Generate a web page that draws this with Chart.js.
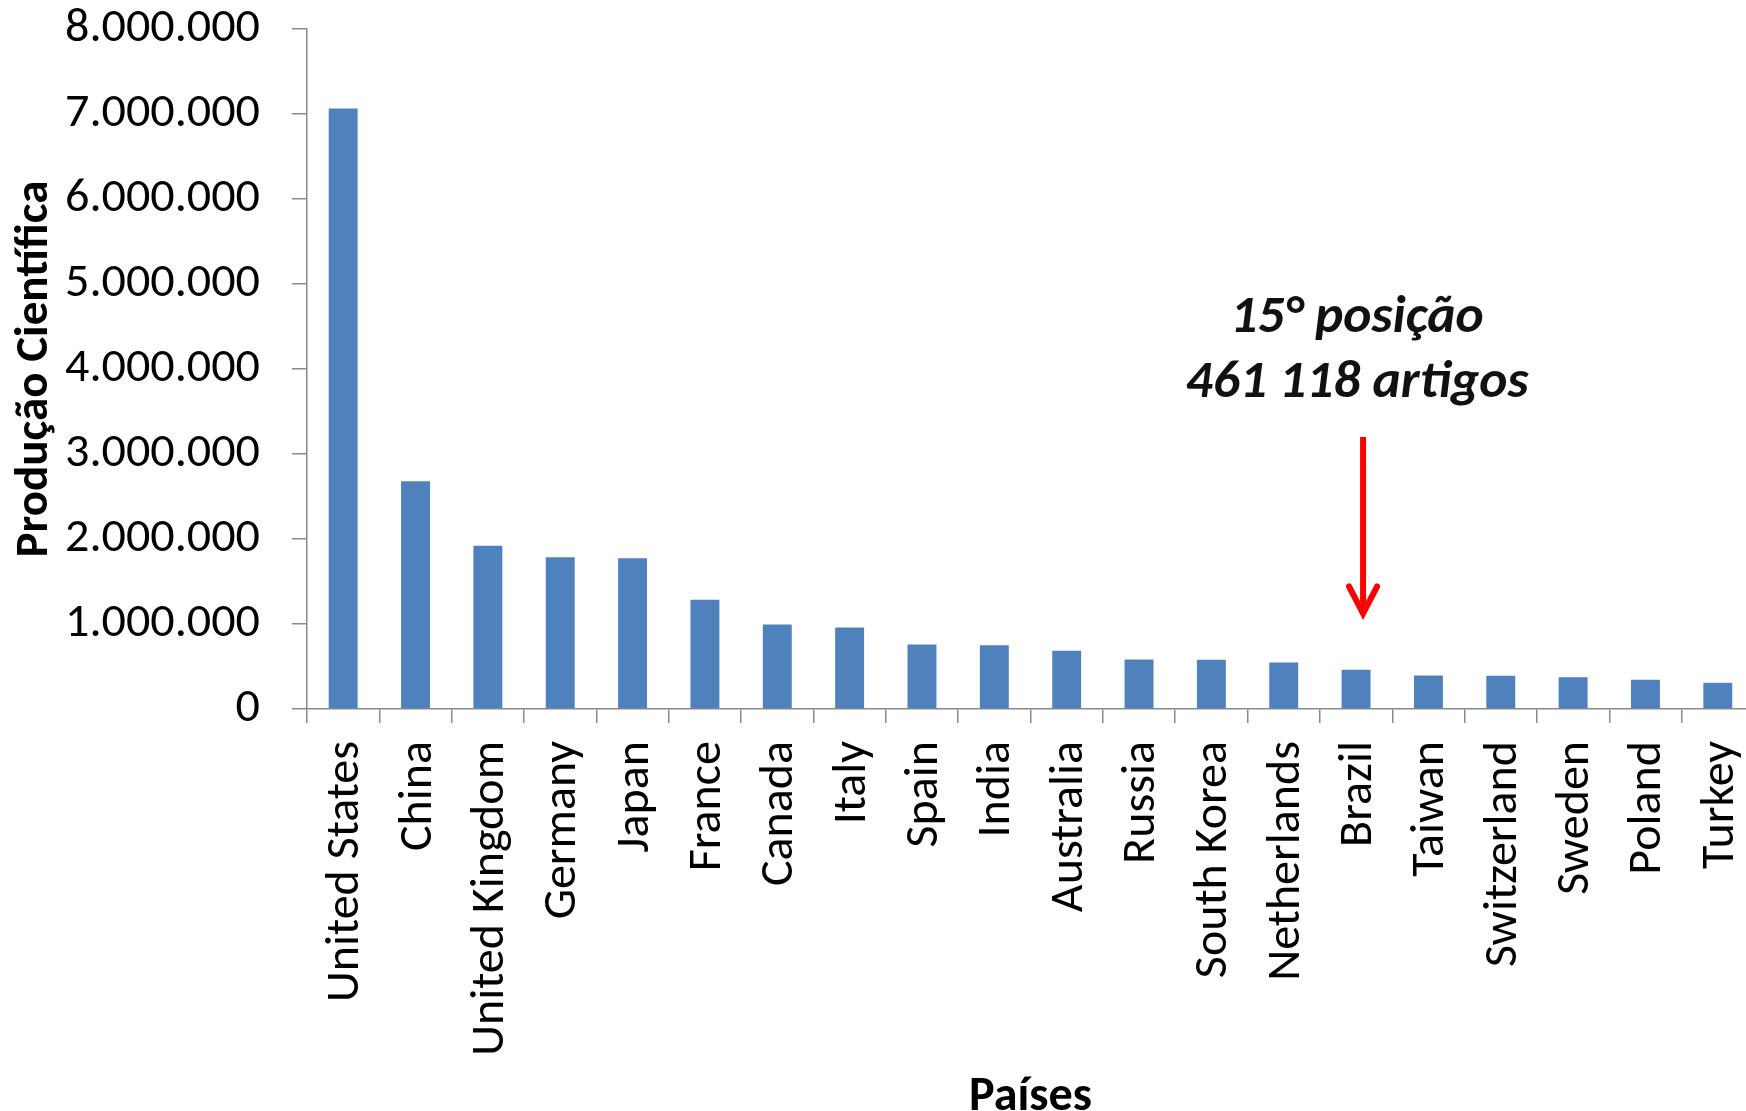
<!DOCTYPE html>
<html>
<head>
<meta charset="utf-8">
<script src="https://cdn.jsdelivr.net/npm/chart.js@4"></script>
<style>
  html, body { margin: 0; padding: 0; overflow: hidden; background: #ffffff; width: 1746px; height: 1111px; }
  canvas { display: block; }
</style>
</head>
<body>
<canvas id="c" width="1754" height="1111"></canvas>
<script>
// ---- data ----
const categories = ['United States', 'China', 'United Kingdom', 'Germany', 'Japan', 'France', 'Canada', 'Italy', 'Spain', 'India', 'Australia', 'Russia', 'South Korea', 'Netherlands', 'Brazil', 'Taiwan', 'Switzerland', 'Sweden', 'Poland', 'Turkey'];
const production = [7066000, 2678000, 1921000, 1784000, 1775000, 1286000, 995000, 960000, 759000, 751000, 685000, 583000, 579000, 547000, 461118, 394000, 392000, 374000, 344000, 308000];
const yTickLabels = ['0', '1.000.000', '2.000.000', '3.000.000', '4.000.000', '5.000.000', '6.000.000', '7.000.000', '8.000.000'];
const yAxisTitle = 'Produção Científica';
const xAxisTitle = 'Países';
const annotationLines = ['15° posição', '461 118 artigos'];
const annotationIndex = 14;          // Brazil
const annotationTextValues = [4430000, 3670000]; // baselines of the two text lines (data units)
const arrowFromValue = 3200000;
const arrowToValue = 1100000;

const FAMILY = 'Carlito, Lato, "Open Sans", sans-serif';

function fitSize(text, target, weight, style) {
  const c = document.createElement('canvas').getContext('2d');
  c.font = `${style || 'normal'} ${weight || 'normal'} 100px ${FAMILY}`;
  return 100 * target / c.measureText(text).width;
}

const xTickSize = fitSize('United States', 261, 'normal');
const yTickSize = fitSize('8.000.000', 195, 'normal');
const yTitleSize = fitSize(yAxisTitle, 377, 'bold');
const xTitleSize = fitSize(xAxisTitle, 123, 'bold');
const annotSize = fitSize(annotationLines[1], 343, 'bold', 'italic');

const AXIS_COLOR = '#8a8a8a';

const annotationPlugin = {
  id: 'annot',
  afterDatasetsDraw(chart) {
    const ctx = chart.ctx;
    const xs = chart.scales.x, ys = chart.scales.y;
    const cx = xs.getPixelForValue(annotationIndex);
    ctx.save();
    ctx.fillStyle = '#111111';
    ctx.font = `italic bold ${annotSize}px ${FAMILY}`;
    ctx.textAlign = 'center';
    ctx.textBaseline = 'alphabetic';
    annotationLines.forEach((t, i) => {
      ctx.fillText(t, cx + 1, ys.getPixelForValue(annotationTextValues[i]));
    });
    const ax = cx + 7;
    const yTop = ys.getPixelForValue(arrowFromValue);
    const yTip = ys.getPixelForValue(arrowToValue);
    ctx.strokeStyle = '#ff0000';
    ctx.lineWidth = 6;
    ctx.lineCap = 'butt';
    ctx.beginPath();
    ctx.moveTo(ax, yTop);
    ctx.lineTo(ax, yTip - 4);
    ctx.stroke();
    ctx.lineCap = 'round';
    ctx.lineJoin = 'miter';
    ctx.beginPath();
    ctx.moveTo(ax - 14, yTip - 29);
    ctx.lineTo(ax, yTip - 2);
    ctx.lineTo(ax + 14, yTip - 29);
    ctx.stroke();
    ctx.restore();
  }
};

new Chart(document.getElementById('c'), {
  type: 'bar',
  data: {
    labels: categories,
    datasets: [{
      data: production,
      backgroundColor: '#4f81bd',
      borderWidth: 0,
      categoryPercentage: 1.0,
      barPercentage: 0.4
    }]
  },
  options: {
    responsive: false,
    animation: false,
    layout: { padding: 0 },
    plugins: { legend: { display: false }, tooltip: { enabled: false } },
    scales: {
      x: {
        offset: true,
        grid: { display: true, offset: true, drawOnChartArea: false, drawTicks: true, tickLength: 14, color: AXIS_COLOR, lineWidth: 1.5 },
        border: { display: true, color: AXIS_COLOR, width: 1.5 },
        ticks: {
          autoSkip: false, minRotation: 90, maxRotation: 90, padding: 18, labelOffset: 3,
          color: '#000000', font: { family: FAMILY, size: xTickSize }
        },
        title: {
          display: true, text: xAxisTitle, color: '#000000',
          font: { family: FAMILY, size: xTitleSize, weight: 'bold', lineHeight: 27 / xTitleSize },
          padding: { top: 0, bottom: 0 }
        },
        afterFit(scale) { scale.height = 402; scale.paddingLeft = 0; scale.paddingRight = 0; }
      },
      y: {
        min: 0, max: 8000000,
        grid: { display: true, drawOnChartArea: false, drawTicks: true, tickLength: 15, color: AXIS_COLOR, lineWidth: 1.5 },
        border: { display: true, color: AXIS_COLOR, width: 1.5 },
        ticks: {
          stepSize: 1000000, padding: 32, color: '#000000',
          font: { family: FAMILY, size: yTickSize },
          callback: (v) => yTickLabels[Math.round(v / 1000000)]
        },
        title: {
          display: true, text: yAxisTitle, color: '#000000',
          font: { family: FAMILY, size: yTitleSize, weight: 'bold', lineHeight: 1 },
          padding: { top: 35 - yTitleSize / 2, bottom: 0 }
        },
        afterFit(scale) { scale.width = 307; scale.paddingTop = 29; scale.paddingBottom = 0; }
      }
    }
  },
  plugins: [annotationPlugin]
});
</script>
</body>
</html>
